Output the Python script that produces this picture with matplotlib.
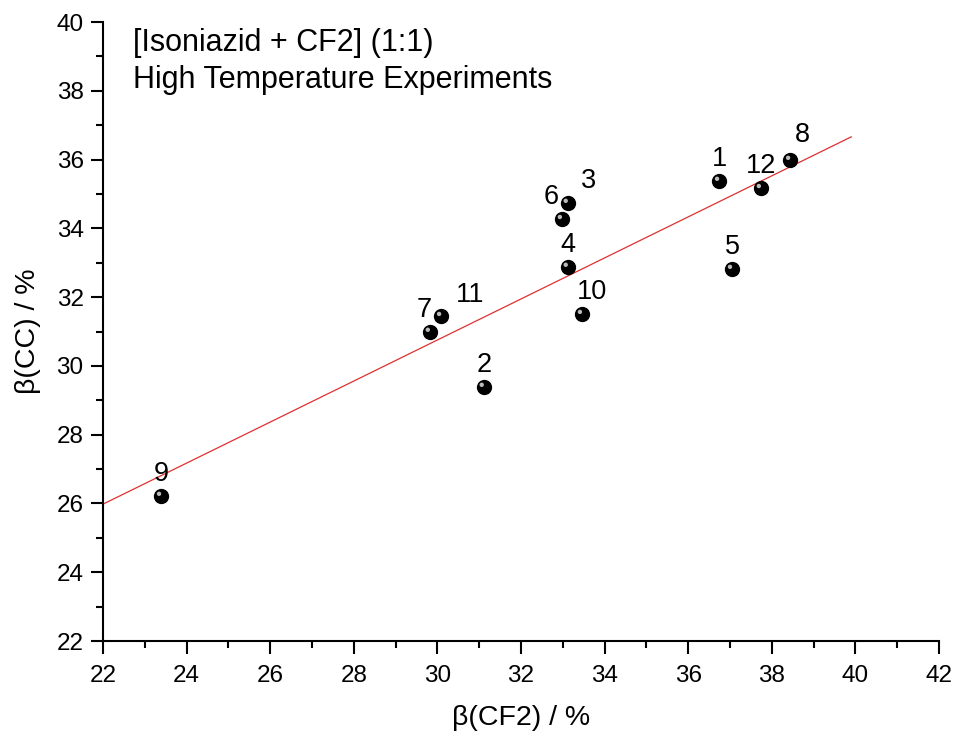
import matplotlib
matplotlib.use("Agg")
import matplotlib.pyplot as plt
import matplotlib.transforms as mtransforms
from matplotlib.ticker import MultipleLocator

plt.rcParams['font.family'] = ['Liberation Sans', 'DejaVu Sans']

# data
labels = ['1', '2', '3', '4', '5', '6', '7', '8', '9', '10', '11', '12']
beta_cf2 = [36.74, 31.11, 33.12, 33.12, 37.05, 32.98, 29.82, 38.44, 23.39, 33.46, 30.09, 37.74]
beta_cc = [35.38, 29.39, 34.74, 32.88, 32.82, 34.27, 30.99, 35.99, 26.22, 31.51, 31.45, 35.17]
# label offsets (points) relative to each marker
label_dx = [0, 0, 15, 0, 0, -8, -4, 9, 0, 7, 21, 0]
label_dy = [16, 16, 16, 16, 16, 16, 16, 18, 16, 16, 15, 16]

# linear fit line end points
fit_x = [22.0, 39.9]
fit_y = [25.98, 36.66]

fig = plt.figure(figsize=(9.6, 7.31), dpi=100)
ax = fig.add_axes([0.1073, 0.1231, 0.8708, 0.8468])

ax.plot(fit_x, fit_y, color='#e03030', lw=0.9, zorder=1)

# spheres: black ball + small highlight
ax.scatter(beta_cf2, beta_cc, s=100, color='black', zorder=3)
hl = ax.transData + mtransforms.ScaledTranslation(-1.5 / 72, 1.5 / 72, fig.dpi_scale_trans)
ax.scatter(beta_cf2, beta_cc, s=10, color='#bbbbbb', edgecolors='none', zorder=4, transform=hl)

for lab, x, y, dx, dy in zip(labels, beta_cf2, beta_cc, label_dx, label_dy):
    ax.annotate(lab, (x, y), xytext=(dx, dy), textcoords='offset points',
                ha='center', va='center', fontsize=19.5)

ax.text(0.036, 0.99, '[Isoniazid + CF2] (1:1)\nHigh Temperature Experiments',
        transform=ax.transAxes, ha='left', va='top', fontsize=22, linespacing=1.28)

ax.set_xlim(22, 42)
ax.set_ylim(22, 40)
ax.xaxis.set_major_locator(MultipleLocator(2))
ax.xaxis.set_minor_locator(MultipleLocator(1))
ax.yaxis.set_major_locator(MultipleLocator(2))
ax.yaxis.set_minor_locator(MultipleLocator(1))
ax.spines['top'].set_visible(False)
ax.spines['right'].set_visible(False)
for s in ('left', 'bottom'):
    ax.spines[s].set_linewidth(1.5)
ax.tick_params(which='major', direction='out', length=9, width=1.5, labelsize=17.5)
ax.tick_params(which='minor', direction='out', length=5, width=1.5)
ax.tick_params(axis='x', which='major', pad=8.5)
ax.tick_params(axis='y', which='major', pad=5)

ax.set_xlabel('β(CF2) / %', fontsize=20.5, labelpad=13)
ax.set_ylabel('β(CC) / %', fontsize=20.5, labelpad=11)

fig.savefig('out.png', dpi=100)
